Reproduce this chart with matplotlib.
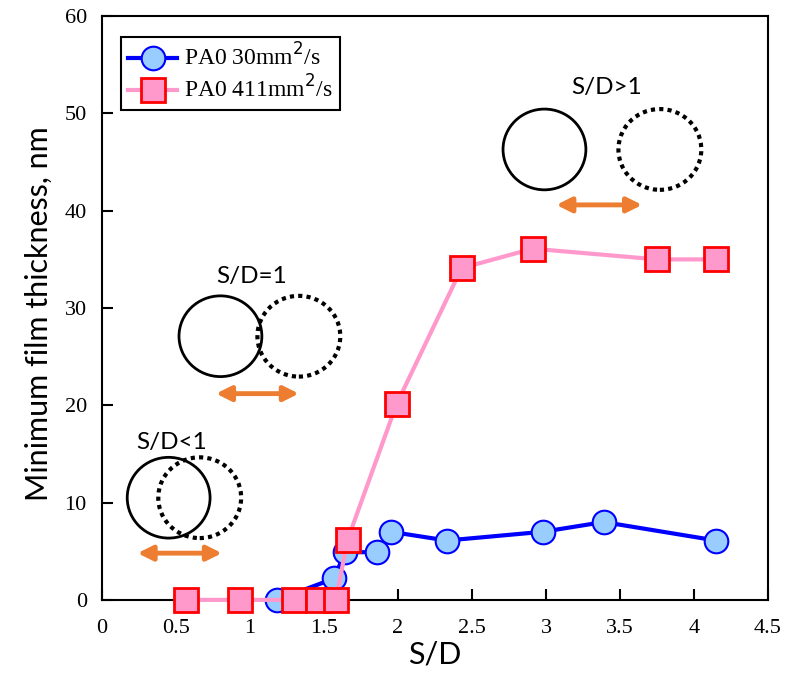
import matplotlib
matplotlib.use('Agg')
import matplotlib.pyplot as plt
from matplotlib.patches import Ellipse

# PA0 30 mm2/s
sd_30 = [1.18, 1.57, 1.64, 1.86, 1.95, 2.33, 2.98, 3.39, 4.15]
h_30 = [0.0, 2.2, 4.9, 4.9, 7.0, 6.1, 7.0, 8.0, 6.1]

# PA0 411 mm2/s
sd_411 = [0.57, 0.93, 1.30, 1.46, 1.58, 1.66, 1.99, 2.43, 2.91, 3.75, 4.15]
h_411 = [0.0, 0.0, 0.0, 0.0, 0.0, 6.2, 20.1, 34.1, 36.1, 35.0, 35.0]

serif = 'Liberation Serif'
sans = 'Lato'

fig = plt.figure(figsize=(8.1, 6.74), dpi=100)
ax = fig.add_axes([0.126, 0.110, 0.822, 0.866])

ax.plot(sd_30, h_30, '-o', color='#0000ff', lw=3, ms=17, clip_on=False,
        mfc='#99ccff', mec='#0000ff', mew=1.5, label='PA0 30mm$^2$/s', zorder=3)
ax.plot(sd_411, h_411, '-s', color='#ff99cc', lw=3, ms=17, clip_on=False,
        mfc='#ff99cc', mec='#ff0000', mew=2, label='PA0 411mm$^2$/s', zorder=4)

ax.set_xlim(0, 4.5)
ax.set_ylim(0, 60)
ax.set_xticks([0, 0.5, 1, 1.5, 2, 2.5, 3, 3.5, 4, 4.5])
ax.set_xticklabels(['0', '0.5', '1', '1.5', '2', '2.5', '3', '3.5', '4', '4.5'])
ax.set_yticks(range(0, 61, 10))
ax.tick_params(direction='in', length=8, width=1.5, labelsize=16, pad=11)
ax.tick_params(axis='x', pad=14)
for lab in ax.get_xticklabels() + ax.get_yticklabels():
    lab.set_family(serif)
for s in ax.spines.values():
    s.set_linewidth(1.5)

ax.set_xlabel('S/D', family=sans, fontsize=22)
ax.set_ylabel('Minimum film thickness, nm', family=sans, fontsize=22)
ax.xaxis.set_label_coords(0.5, -0.07)
ax.yaxis.set_label_coords(-0.074, 0.49)

leg = ax.legend(loc='upper left', bbox_to_anchor=(0.028, 0.965), prop={'family': serif, 'size': 17},
                fancybox=False, framealpha=1, edgecolor='black', handlelength=2.1,
                borderpad=0.3, labelspacing=0.2, handletextpad=0.3, borderaxespad=0)
leg.get_frame().set_linewidth(1.5)

# contact sketches: solid centre x, dotted centre x, centre y, arrow x0, x1, arrow y, label, label x, label y
sketches = [
    (0.45, 0.66, 10.5, 0.24, 0.81, 4.8, 'S/D<1', 0.47, 16.2),
    (0.80, 1.33, 27.1, 0.77, 1.33, 21.2, 'S/D=1', 1.01, 33.2),
    (2.99, 3.77, 46.3, 3.07, 3.65, 40.6, 'S/D>1', 3.41, 52.7),
]
rw, rh = 0.56, 8.3
for xs, xd, yc, a0, a1, ya, txt, xt, yt in sketches:
    ax.add_patch(Ellipse((xs, yc), rw, rh, fill=False, ec='black', lw=2))
    ax.add_patch(Ellipse((xd, yc), rw, rh, fill=False, ec='black', lw=3, ls=(0, (1, 1))))
    ax.annotate('', xy=(a1, ya), xytext=(a0, ya),
                arrowprops=dict(arrowstyle='<|-|>', color='#ed7d31', lw=3.5, mutation_scale=22,
                                shrinkA=0, shrinkB=0))
    ax.text(xt, yt, txt, family=sans, fontsize=17.5, ha='center', va='center')

fig.savefig('out.png', dpi=100)
